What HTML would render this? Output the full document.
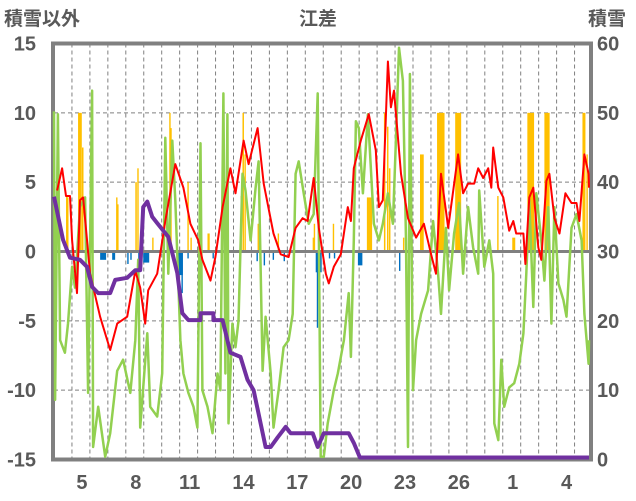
<!DOCTYPE html>
<html><head><meta charset="utf-8">
<style>
html,body{margin:0;padding:0;background:#fff;}
svg{display:block;font-family:"Liberation Sans","Noto Sans CJK JP",sans-serif;}
</style></head>
<body>
<svg id="chart" width="636" height="501" viewBox="0 0 636 501" xmlns="http://www.w3.org/2000/svg">
<text x="4" y="25" font-size="19" fill="#595959" font-weight="bold">積雪以外</text>
<text x="318" y="25" font-size="19" fill="#595959" text-anchor="middle" font-weight="bold">江差</text>
<text x="588" y="25" font-size="19" fill="#595959" font-weight="bold">積雪</text>
<g id="grid"></g>
<g id="bars"></g>
<g id="frame"></g>
<g id="lines"></g>
<g id="axes"></g>
</svg>
<script>
const leftTicks=[15,10,5,0,-5,-10,-15];
const rightTicks=[60,50,40,30,20,10,0];
const dayLabels=["5","8","11","14","17","20","23","26","1","4"];
const dayLabelPos=[1.5,4.5,7.5,10.5,13.5,16.5,19.5,22.5,25.5,28.5];
const redT=[0.17,0.45,0.67,0.89,1.01,1.28,1.45,1.62,2.01,2.57,3.13,3.52,4.08,4.53,4.80,5.08,5.25,5.75,6.20,6.76,7.21,7.60,8.04,8.27,8.72,8.99,9.39,9.83,10.11,10.56,10.84,11.34,11.68,12.23,12.63,13.07,13.46,13.85,14.13,14.47,14.75,15.14,15.31,15.59,15.98,16.37,16.54,16.70,17.09,17.54,17.93,18.10,18.32,18.60,18.77,18.94,19.33,19.72,20.17,20.61,21.01,21.28,21.56,21.96,22.51,22.79,23.07,23.41,23.63,23.91,24.19,24.36,24.47,24.75,25.03,25.36,25.59,25.75,26.15,26.26,26.48,26.70,26.98,27.15,27.43,27.60,27.88,28.16,28.49,28.83,29.11,29.27,29.55,29.78,29.94];
const redV=[4.4,6,4,4,0.8,-3,3.7,3.9,-1.6,-4.7,-7.1,-5.2,-4.7,-1.4,-2.6,-5.2,-2.8,-1.6,2.2,6.3,4.6,2,0.8,-0.6,-2.1,-0.4,3.2,6,4.2,8,6.3,8.9,4.9,1.3,-0.2,-0.4,1.7,2.4,2.2,5.3,1.7,-1.6,-2.3,-1.1,-0.2,3.2,2.2,6,8,9.9,7.3,3.2,3.7,13.7,10.4,11.6,5.6,2.4,1,2,-0.2,-1.6,5.6,1.7,7,4.2,4.9,4.9,6,5.3,6,4.6,7.5,4.6,3.9,1.5,2.2,1.3,1.3,-0.9,3.9,4.6,0.3,-0.6,5.1,5.6,2.4,1.3,4.2,3.5,3.5,2.2,7,5.6,4.6];
const greenT=[0,0.06,0.22,0.34,0.61,0.78,1.01,1.17,1.45,1.73,1.90,2.12,2.18,2.46,2.85,3.13,3.52,3.85,4.25,4.53,4.69,4.80,5.20,5.36,5.75,6.03,6.20,6.37,6.59,6.76,7.04,7.21,7.49,7.77,7.99,8.16,8.27,8.55,8.83,9.11,9.27,9.44,9.55,9.66,9.72,9.94,10.11,10.28,10.50,10.67,10.95,11.23,11.40,11.62,11.79,12.07,12.23,12.51,12.79,13.07,13.30,13.46,13.63,13.91,14.19,14.47,14.69,14.86,15.03,15.25,15.59,15.81,16.15,16.42,16.54,16.70,16.82,16.98,17.21,17.49,17.82,18.10,18.32,18.60,18.88,19.05,19.22,19.44,19.61,19.72,19.83,20.00,20.17,20.45,20.84,21.12,21.40,21.56,21.84,22.01,22.29,22.57,22.79,23.07,23.35,23.63,23.69,23.97,24.25,24.47,24.53,24.75,24.92,25.08,25.36,25.64,25.92,26.15,26.31,26.48,26.70,26.87,27.15,27.32,27.54,27.71,27.88,28.10,28.38,28.55,28.83,29.11,29.39,29.55,29.78,29.94];
const greenV=[10.1,-10.7,9.9,-6.4,-7.3,-5.2,-1.1,-2.6,3.2,3.9,-10.2,11.6,-14.1,-11.2,-14.8,-13.1,-8.6,-7.8,-10.2,-6.4,-0.6,-12.7,-5.9,-11.2,-11.9,-8.8,8.2,-1.6,8,3.7,-6.4,-8.8,-10.2,-11.2,-12.7,7.8,-10,-11.2,-13.1,-8.8,-10,11.4,-8.8,9.9,-12.4,-5.2,-6.9,-5,5.6,4.4,0.8,4.6,6.5,-8.6,-4.7,-8.8,-12.7,-10,-6.9,-6.4,-4.5,5.6,6.5,4.2,2,2.7,11.4,-14.8,-14.8,-12.4,-10,-8.8,-6.4,-3,-7.6,0.8,9.4,8.9,4.2,9.9,2,0.8,2,4.2,2,8,14.7,12.3,0.8,-14.1,12.8,-10,-6.4,-4.5,-2.8,2.2,-1.6,-4.5,1.7,-2.8,1.3,3.5,-1.6,3.2,0.3,-1.6,4.4,-1.1,0.8,-1.6,-12.4,-13.6,-7.8,-11.2,-9.8,-9.5,-8.1,-5.9,-1.6,3.7,-4,4.2,0.8,-2.1,3.2,-5.2,3.2,-2.3,-3.5,-4.7,1.7,2.7,0.8,-4.5,-8.1,-6.4];
const snowT=[0,0.50,0.89,1.45,1.84,2.12,2.46,3.13,3.41,4.08,4.53,4.80,4.97,5.20,5.47,5.75,6.37,6.87,7.15,7.49,8.16,8.16,8.88,8.88,9.39,9.83,10.39,10.78,11.12,11.79,12.07,12.46,12.91,13.18,14.41,14.69,15.03,16.42,16.70,17.04,29.94];
const snowV=[37.9,31.7,29.1,28.8,27.8,24.9,24,24,25.9,26.2,27.3,27.3,36.4,37.2,35,34.1,32.1,26.9,21.1,20.1,20.1,21.1,21.1,20.1,20.1,15.4,14.8,11.5,10,1.8,1.8,3.2,4.7,3.8,3.8,1.8,3.8,3.8,2.4,0,0];
const precipT=[0.67,0.73,1.34,1.56,3.46,3.52,4.53,4.64,5.47,6.42,6.48,7.43,7.60,8.55,10.39,10.50,10.61,11.34,11.40,12.46,14.41,14.47,15.53,17.43,18.38,18.55,18.66,19.44,20.39,21.34,22.35,24.69,25.53,26.37,27.32,29.44,29.66];
const precipV=[4,3.9,10,7.5,3.9,3.4,5,6,1,10,8.9,5,1,1.3,4,10,7,2,5,1.3,1,2,2,3.9,10,9,6,1,7,10,10,4,1,10,10,10,7];
const precipHours=[2,1,5,2,1,1,2,1,1,1,1,1,1,3,1,2,1,4,1,1,1,1,1,7,2,2,2,1,5,10,8,1,4,9,7,4,1];
const negT=[0.11,2.57,3.24,4.08,4.25,4.69,4.97,6.93,7.10,7.43,8.04,8.83,11.28,11.68,12.18,12.79,14.58,14.64,15.31,15.59,16.93,19.22];
const negV=[-0.5,-0.6,-0.6,-0.9,-0.6,-1,-0.8,-1.7,-3,-0.5,-0.5,-0.5,-0.7,-1,-0.6,-0.7,-1.5,-5.5,-0.5,-0.5,-1,-1.4];
const negHours=[1,8,4,1,1,1,8,6,1,1,1,1,1,1,1,1,8,1,1,1,6,1];

const NS="http://www.w3.org/2000/svg";
const X0=54,DAY=17.95,XR=591,YT=43.5,YB=459.5;
function xs(t){return X0+t*DAY;}
function yl(v){return 251.5-v*(YB-YT)/30;}
function yr(s){return Math.min(YB-2,YB-s*(YB-YT)/60);}
function mk(tag,parent){const e=document.createElementNS(NS,tag);parent.appendChild(e);return e;}
const grid=document.getElementById('grid'),bars=document.getElementById('bars'),frame=document.getElementById('frame'),lines=document.getElementById('lines'),axes=document.getElementById('axes');
[10,5,-5,-10].forEach(v=>{const l=mk('line',grid);


l.setAttribute('x1',X0);l.setAttribute('x2',XR);l.setAttribute('y1',yl(v));l.setAttribute('y2',yl(v));l.setAttribute('stroke','#808080');l.setAttribute('stroke-dasharray','4,3');l.setAttribute('stroke-width','1');});
for(let k=1;k<30;k++){const x=xs(k);if(x>=XR-1)break;const l=mk('line',grid);


l.setAttribute('x1',x);l.setAttribute('x2',x);l.setAttribute('y1',YT);l.setAttribute('y2',YB);l.setAttribute('stroke','#808080');l.setAttribute('stroke-dasharray','4,3');l.setAttribute('stroke-width','1');}
function drawBars(T,V,H,color,name){for(let i=0;i<T.length;i++){const r=mk('rect',bars);


const w=Math.max(1.4,H[i]*DAY/24);const y0=yl(0),y1=yl(V[i]);
r.setAttribute('x',xs(T[i]));r.setAttribute('width',w);r.setAttribute('y',Math.min(y0,y1));r.setAttribute('height',Math.abs(y1-y0));r.setAttribute('fill',color);}}
drawBars(precipT,precipV,precipHours,'#ffc000','precip-bar');
drawBars(negT,negV,negHours,'#0070c0','negative-bar');
const z=mk('line',frame);


z.setAttribute('x1',X0);z.setAttribute('x2',XR);z.setAttribute('y1',yl(0));z.setAttribute('y2',yl(0));z.setAttribute('stroke','#808080');z.setAttribute('stroke-width','3');
const b=mk('rect',frame);


b.setAttribute('x',X0-1);b.setAttribute('y',YT);b.setAttribute('width',XR-X0+1);b.setAttribute('height',YB-YT);b.setAttribute('fill','none');b.setAttribute('stroke','#808080');b.setAttribute('stroke-width','4');
function drawLine(T,V,yf,color,w,name){const p=mk('polyline',lines);


p.setAttribute('points',T.map((t,i)=>Math.min(XR-2,xs(t)).toFixed(1)+','+yf(V[i]).toFixed(1)).join(' '));
p.setAttribute('fill','none');p.setAttribute('stroke',color);p.setAttribute('stroke-width',w);p.setAttribute('stroke-linejoin','round');}
drawLine(greenT,greenV,yl,'#92d050',2.5,'green-series-line');
drawLine(redT,redV,yl,'#ff0000',2,'red-series-line');
drawLine(snowT,snowV,yr,'#7030a0',4,'snow-depth-line');
leftTicks.forEach(v=>{const t=mk('text',axes);


t.setAttribute('x',36);t.setAttribute('y',yl(v)+7);t.setAttribute('text-anchor','end');t.setAttribute('font-size','20');t.setAttribute('font-weight','bold');t.setAttribute('fill','#595959');t.textContent=v;});
rightTicks.forEach(v=>{const t=mk('text',axes);


t.setAttribute('x',597);t.setAttribute('y',(YB-v*(YB-YT)/60)+7);t.setAttribute('font-size','20');t.setAttribute('font-weight','bold');t.setAttribute('fill','#595959');t.textContent=v;});
dayLabels.forEach((s,i)=>{const t=mk('text',axes);


t.setAttribute('x',xs(dayLabelPos[i])+1);t.setAttribute('y',489);t.setAttribute('text-anchor','middle');t.setAttribute('font-size','20');t.setAttribute('font-weight','bold');t.setAttribute('fill','#595959');t.textContent=s;});
</script>
</body></html>
